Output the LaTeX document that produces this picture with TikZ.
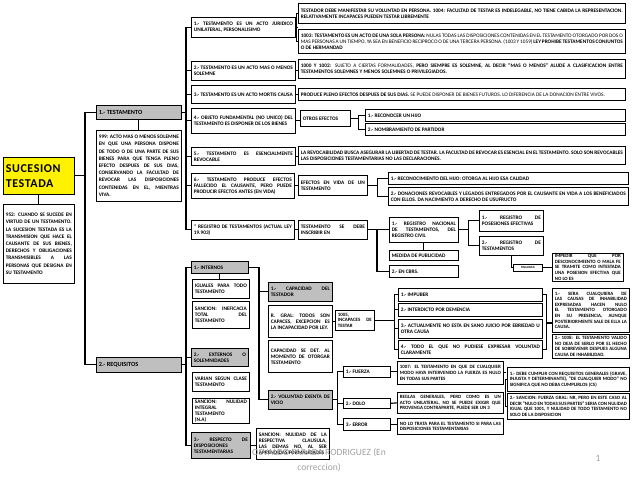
\documentclass[tikz,border=0pt]{standalone}
\usepackage{fontspec}
\setmainfont{Carlito}
\newfontfamily\spacedfont[LetterSpace=5]{Carlito}
\definecolor{boxgray}{RGB}{191,191,191}
\definecolor{footgray}{RGB}{160,160,160}
\hyphenpenalty=10000
\exhyphenpenalty=10000
\tolerance=9999
\emergencystretch=2em
\tikzset{
  cell/.style={draw, line width=0.7pt, anchor=north west, inner xsep=2.5pt, inner ysep=0.5pt,
    align=justify, font=\fontsize{5.3}{6}\selectfont\bfseries},
  boxwh/.style 2 args={minimum width=#1pt, minimum height=#2pt, text width=#1pt-5pt},
  head/.style={cell, fill=boxgray},
  big/.style={font=\fontsize{6.3}{7}\selectfont\bfseries},
  fine/.style={font=\fontsize{4.9}{5.6}\selectfont\bfseries},
  wide/.style={cell, font=\fontsize{5.3}{7.2}\selectfont\bfseries},
  conn/.style={line width=1.1pt},
}
\begin{document}
\begin{tikzpicture}[x=1pt,y=-1pt]
\useasboundingbox (0,0) rectangle (638,479);

% spines
\coordinate (s1) at (85,0);
\coordinate (s2) at (186,0);
\coordinate (s4) at (259,0);

% left column
\node[cell, boxwh={71}{37}, fill=yellow, align=left, font=\spacedfont\fontsize{12}{15}\selectfont\bfseries] (suc) at (3,157) {SUCESION\\TESTADA};
\node[wide, boxwh={71}{79}] (d952) at (3,204) {952: CUANDO SE SUCEDE EN VIRTUD DE UN TESTAMENTO. LA SUCESION TESTADA ES LA TRANSMISION QUE HACE EL CAUSANTE DE SUS BIENES, DERECHOS Y OBLIGACIONES TRANSMISIBLES A LAS PERSONAS QUE DESIGNA EN SU TESTAMENTO};
\node[head, big, boxwh={85}{14}] (tes) at (96,105) {1.- TESTAMENTO};
\node[wide, boxwh={85}{71}] (d999) at (96,130) {999: ACTO MAS O MENOS SOLEMNE EN QUE UNA PERSONA DISPONE DE TODO O DE UNA PARTE DE SUS BIENES PARA QUE TENGA PLENO EFECTO DESPUES DE SUS DIAS, CONSERVANDO LA FACULTAD DE REVOCAR LAS DISPOSICIONES CONTENIDAS EN EL, MIENTRAS VIVA.};
\node[head, big, boxwh={85}{15}] (req) at (96,357) {2.- REQUISITOS};

\draw[conn] (suc.south) -- (d952.north);
\draw[conn] (suc.east) -- (suc.east -| s1);
\draw[conn] (tes.west) -- (tes.west -| s1) |- (req.west);
\draw[conn] (tes.south) -- (d999.north);

% 1.- testamento: caracteristicas
\node[cell, boxwh={104}{20}] (c1) at (191,17) {1.- TESTAMENTO ES UN ACTO JURIDICO UNILATERAL, PERSONALISIMO};
\node[cell, boxwh={104}{19}] (c2) at (191,61) {2.- TESTAMENTO ES UN ACTO MAS O MENOS SOLEMNE};
\node[cell, boxwh={104}{18}] (c3) at (191,85) {3.- TESTAMENTO ES UN ACTO MORTIS CAUSA};
\node[cell, boxwh={104}{25}] (c4) at (191,108) {4.- OBJETO FUNDAMENTAL (NO UNICO) DEL TESTAMENTO ES DISPONER DE LOS BIENES};
\node[cell, boxwh={104}{18}] (c5) at (191,147) {5.- TESTAMENTO ES ESENCIALMENTE REVOCABLE};
\node[cell, boxwh={103}{25}] (c6) at (191,173) {6.- TESTAMENTO PRODUCE EFECTOS FALLECIDO EL CAUSANTE, PERO PUEDE PRODUCIR EFECTOS ANTES (EN VIDA)};
\node[cell, boxwh={103}{19}] (c7) at (191,220) {* REGISTRO DE TESTAMENTOS (ACTUAL LEY 19.903)};

\draw[conn] (tes.east) -- (tes.east -| s2);
\draw[conn] (c1.west) -- (c1.west -| s2) |- (c7.west);
\foreach \i in {2,...,6}
  \draw[conn] (c\i.west) -- (c\i.west -| s2);

\node[cell, boxwh={327}{20}] (ta) at (298,3) {TESTADOR DEBE MANIFESTAR SU VOLUNTAD EN PERSONA. 1004: FACULTAD DE TESTAR ES INDELEGABLE, NO TIENE CABIDA LA REPRESENTACION. RELATIVAMENTE INCAPACES PUEDEN TESTAR LIBREMENTE};
\node[cell, boxwh={327}{24}] (tb) at (298,29) {1003: TESTAMENTO ES UN ACTO DE UNA SOLA PERSONA: {\mdseries NULAS TODAS LAS DISPOSICIONES CONTENIDAS EN EL TESTAMENTO OTORGADO POR DOS O MAS PERSONAS A UN TIEMPO, YA SEA EN BENEFICIO RECIPROCO O DE UNA TERCERA PERSONA. (1003 Y 1059)} LEY PROHIBE TESTAMENTOS CONJUNTOS O DE HERMANDAD};
\node[cell, boxwh={327}{19}] (tc) at (298,59) {1000 Y 1002: {\mdseries SUJETO A CIERTAS FORMALIDADES,} PERO SIEMPRE ES SOLEMNE, AL DECIR "MAS O MENOS" ALUDE A CLASIFICACION ENTRE TESTAMENTOS SOLEMNES Y MENOS SOLEMNES O PRIVILEGIADOS.};
\node[cell, boxwh={327}{12}] (td) at (298,88) {PRODUCE PLENO EFECTOS DESPUES DE SUS DIAS. {\mdseries SE PUEDE DISPONER DE BIENES FUTUROS. LO DIFERENCIA DE LA DONACION ENTRE VIVOS.}};
\node[cell, boxwh={50}{16}] (otros) at (300,110) {OTROS EFECTOS};
\node[cell, boxwh={260}{12}] (o1) at (365,109) {1.- RECONOCER UN HIJO};
\node[cell, boxwh={260}{12}] (o2) at (365,123) {2.- NOMBRAMIENTO DE PARTIDOR};
\node[cell, boxwh={327}{18}] (te) at (298,146) {LA REVOCABILIDAD BUSCA ASEGURAR LA LIBERTAD DE TESTAR. LA FACULTAD DE REVOCAR ES ESENCIAL EN EL TESTAMENTO. SOLO SON REVOCABLES LAS DISPOSICIONES TESTAMENTARIAS NO LAS DECLARACIONES.};
\node[cell, boxwh={69}{20}] (vida) at (298,175) {EFECTOS EN VIDA DE UN TESTAMENTO};
\node[cell, boxwh={240}{12}] (v1) at (388,172) {1.- RECONOCIMIENTO DEL HIJO: OTORGA AL HIJO ESA CALIDAD};
\node[cell, boxwh={240}{18}] (v2) at (388,187) {2.- DONACIONES REVOCABLES Y LEGADOS ENTREGADOS POR EL CAUSANTE EN VIDA A LOS BENEFICIADOS CON ELLOS. DA NACIMIENTO A DERECHO DE USUFRUCTO};
\node[cell, boxwh={69}{19}] (insc) at (298,220) {TESTAMENTO SE DEBE INSCRIBIR EN};

\draw[conn] (c1.east) -- (c1.east -| ta.west);
\draw[conn] (ta.west) -- ++(-1.5,0) |- (tb.west);
\draw[conn] (c2.east) -- (c2.east -| tc.west);
\draw[conn] (c3.east) -- (c3.east -| td.west);
\draw[conn] (c4.east) -- (c4.east -| otros.west);
\draw[conn] (c5.east) -- (c5.east -| te.west);
\draw[conn] (c6.east) -- (c6.east -| vida.west);
\draw[conn] (c7.east) -- (c7.east -| insc.west);
\draw[conn] (otros.east) -- ++(8,0) coordinate (k1);
\draw[conn] (o1.west) -- (o1.west -| k1) |- (o2.west);
\draw[conn] (vida.east) -- ++(10,0) coordinate (k2);
\draw[conn] (v1.west) -- (v1.west -| k2) |- (v2.west);

% registro
\node[cell, boxwh={69}{25}] (rnt) at (389,217) {1.- REGISTRO NACIONAL DE TESTAMENTOS, DEL REGISTRO CIVIL};
\node[cell, boxwh={69}{10}] (medida) at (389,250) {MEDIDA DE PUBLICIDAD};
\node[cell, boxwh={69}{12}] (cbrs) at (389,265) {2.- EN CBRS.};
\node[cell, boxwh={64}{21}] (rpe) at (479,210) {1.- REGISTRO DE POSESIONES EFECTIVAS};
\node[cell, boxwh={64}{19}] (rt) at (479,236) {2.- REGISTRO DE TESTAMENTOS};
\node[cell, boxwh={29}{7}, align=center, inner ysep=0.5pt, font=\fontsize{3}{3.2}\selectfont\bfseries] (fin) at (513,264) {FINALIDAD};
\node[cell, fine, boxwh={71}{28}] (imp) at (552,253) {IMPEDIR QUE POR DESCONOCIMIENTO O MALA FE SE TRAMITE COMO INTESTADA UNA POSESION EFECTIVA QUE NO LO ES};

\draw[conn] (insc.east) -- (insc.east -| rnt.west);
\draw[conn] (cbrs.west) -- ++(-12,0) |- (insc.east);
\draw[conn] (rnt.south) -- (medida.north);
\draw[conn] (rnt.east) -- ++(10,0) coordinate (k3);
\draw[conn] (rpe.west) -- (rpe.west -| k3) |- (rt.west);
\draw[conn] (rt.south) |- (fin.west);
\draw[conn] (fin.east) -- (fin.east -| imp.west);

% 2.- requisitos
\node[head, boxwh={57}{12}] (int) at (191,261) {1.- INTERNOS};
\node[cell, boxwh={57}{19}] (ig) at (192,279) {IGUALES PARA TODO TESTAMENTO};
\node[cell, boxwh={57}{27}] (san1) at (192,301) {SANCION: INEFICACIA TOTAL DEL TESTAMENTO};
\node[head, boxwh={57}{18}] (ext) at (191,348) {2.- EXTERNOS O SOLEMNIDADES};
\node[cell, boxwh={57}{19}] (var) at (192,372) {VARIAN SEGUN CLASE TESTAMENTO};
\node[cell, boxwh={57}{25}] (san2) at (192,398) {SANCION: NULIDAD INTEGRAL TESTAMENTO (N.A)};
\node[head, boxwh={59}{26}] (resp) at (191,432) {3.- RESPECTO DE DISPOSICIONES TESTAMENTARIAS};
\node[cell, boxwh={73}{31}] (nul) at (256,428) {SANCION: NULIDAD DE LA RESPECTIVA CLAUSULA, LAS DEMAS NO, AL SER APRENDIDAS FORMALIDADES};

\draw[conn] (req.east) -- (req.east -| s2);
\draw[conn] (int.west) -- (int.west -| s2) |- (resp.west);
\draw[conn] (ext.west) -- (ext.west -| s2);
\draw[conn] (int.south) -- (int.south |- ig.north);
\draw[conn] (resp.east) -- (resp.east -| nul.west);

\node[head, boxwh={64}{19}] (cap) at (268,282) {1.- CAPACIDAD DEL TESTADOR};
\node[cell, boxwh={64}{32}] (rg) at (268,305) {R. GRAL: TODOS SON CAPACES, EXCEPCION ES LA INCAPACIDAD POR LEY.};
\node[cell, boxwh={64}{32}] (capdet) at (268,340) {CAPACIDAD SE DET. AL MOMENTO DE OTORGAR TESTAMENTO};
\node[head, boxwh={64}{19}] (vol) at (268,390) {2.- VOLUNTAD EXENTA DE VICIO};

\draw[conn] (int.east) -- (int.east -| s4) |- (vol.west);
\draw[conn] (cap.west) -- (cap.west -| s4);

\node[cell, fine, boxwh={39}{20}, inner xsep=2pt] (inc) at (335,310) {1005, INCAPACES DE TESTAR};
\node[cell, boxwh={144}{13}] (imb) at (398,288) {1.- IMPUBER};
\node[cell, boxwh={144}{13}] (dem) at (398,303) {2.- INTERDICTO POR DEMENCIA};
\node[cell, boxwh={144}{19}] (ebr) at (398,319) {3.- ACTUALMENTE NO ESTA EN SANO JUICIO POR EBRIEDAD U OTRA CAUSA};
\node[cell, boxwh={144}{18}] (clar) at (398,340) {4.- TODO EL QUE NO PUDIESE EXPRESAR VOLUNTAD CLARAMENTE};
\node[cell, fine, boxwh={77}{44}] (inh1) at (552,288) {1.- SERA CUALQUIERA DE LAS CAUSAS DE INHABILIDAD EXPRESADAS HACEN NULO EL TESTAMENTO OTORGADO EN SU PRESENCIA, AUNQUE POSTERIORMENTE SALE DE ELLA LA CAUSA.};
\node[cell, fine, boxwh={77}{24}] (inh2) at (552,334) {2.- 1008: EL TESTAMENTO VALIDO NO DEJA DE SERLO POR EL HECHO DE SOBREVENIR DESPUES ALGUNA CAUSA DE INHABILIDAD.};

\draw[conn] (rg.east) -- (rg.east -| inc.west);
\draw[conn] (inc.east) -- ++(20,0) coordinate (k4);
\draw[conn] (imb.west) -- (imb.west -| k4) |- (clar.west);
\draw[conn] (dem.west) -- (dem.west -| k4);
\draw[conn] (ebr.west) -- (ebr.west -| k4);
\draw[conn] (imb.east) -- ++(4,0) coordinate (k5) |- (clar.east);
\coordinate (k6) at (k5 |- 0,323);
\draw[conn] (k6) -- (k6 -| inh1.west);

% vicios de la voluntad
\node[cell, boxwh={47}{11}] (fue) at (343,366) {1.- FUERZA};
\node[cell, boxwh={47}{10}] (dol) at (343,398) {2.- DOLO};
\node[cell, boxwh={47}{12}] (err) at (343,418) {3.- ERROR};
\node[cell, fine, boxwh={106}{23}] (f1007) at (397,361) {1007: EL TESTAMENTO EN QUE DE CUALQUIER MODO HAYA INTERVENIDO LA FUERZA ES NULO EN TODAS SUS PARTES};
\node[cell, fine, boxwh={106}{21}] (regl) at (397,392) {REGLAS GENERALES, PERO COMO ES UN ACTO UNILATERAL, NO SE PUEDE EXIGIR QUE PROVENGA CONTRAPARTE, PUEDE SER UN 3};
\node[cell, fine, boxwh={106}{16}] (notr) at (397,418) {NO LO TRATA PARA EL TESTAMENTO SI PARA LAS DISPOSICIONES TESTAMENTARIAS};
\node[cell, fine, boxwh={122}{24}] (rq1) at (507,367) {1.- DEBE CUMPLIR CON REQUISITOS GENERALES (GRAVE, INJUSTA Y DETERMINANTE), "DE CUALQUIER MODO" NO SIGNIFICA QUE NO DEBA CUMPLIRLOS (CS)};
\node[cell, fine, boxwh={122}{26}] (rq2) at (507,393) {2.- SANCION: FUERZA GRAL: NR, PERO EN ESTE CASO AL DECIR "NULO EN TODAS SUS PARTES" SERIA CON NULIDAD IGUAL QUE 1001, Y NULIDAD DE TODO TESTAMENTO NO SOLO DE LA DISPOSICION};

\draw[conn] (vol.east) -- ++(5,0) coordinate (k7);
\draw[conn] (fue.west) -- (fue.west -| k7) |- (err.west);
\draw[conn] (dol.west) -- (dol.west -| k7);
\draw[conn] (fue.east) -- (fue.east -| f1007.west);
\draw[conn] (dol.east) -- (regl.west);
\draw[conn] (err.east) -- (err.east -| notr.west);
\draw[conn] (f1007.east) -- ++(2,0) coordinate (k8);
\draw[conn] (rq1.west) -- (rq1.west -| k8) |- (rq2.west);

% footer
\node[text=footgray, align=center, font=\fontsize{9.5}{15}\selectfont] (foot) at (319,460) {OSVALDO PARADA RODRIGUEZ (En\\correccion)};
\node[text=footgray, font=\fontsize{9.5}{11}\selectfont] (page) at (598,458) {1};
\end{tikzpicture}
\end{document}
